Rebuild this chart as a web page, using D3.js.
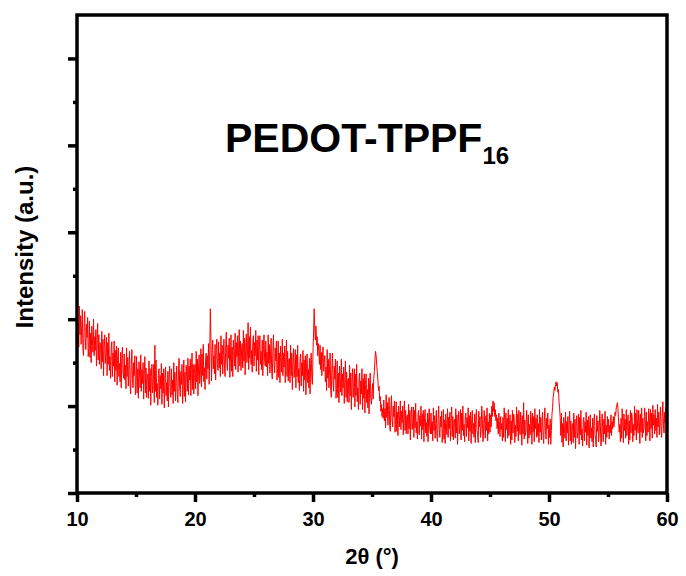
<!DOCTYPE html>
<html>
<head>
<meta charset="utf-8">
<script src="https://cdn.jsdelivr.net/npm/d3@7"></script>
<style>
  body { margin: 0; background: #fff; }
  text { font-family: "Liberation Sans", Arial, sans-serif; font-weight: bold; }
</style>
</head>
<body>
<div id="chart"></div>
<script>
// XRD pattern, 2theta from 10 to 60 in 0.05 steps (one row per degree)
var twoThetaStart = 10, twoThetaStep = 0.05;
var intensity = [
  2080, 1780, 1950, 1680, 2150, 1820, 2040, 1710, 1920, 2110, 1670, 1580, 1920, 2090, 1760, 1650, 1940, 1790, 2020, 1570,
  1660, 1980, 1560, 1840, 1500, 1920, 1790, 1620, 2000, 1580, 1800, 1640, 1880, 1460, 1760, 1950, 1530, 1820, 1480, 1730,
  1710, 1430, 1860, 1510, 1770, 1350, 1680, 1820, 1490, 1600, 1790, 1350, 1730, 1480, 1840, 1410, 1570, 1320, 1680, 1740,
  1340, 1610, 1460, 1750, 1280, 1640, 1410, 1690, 1240, 1570, 1670, 1340, 1490, 1280, 1620, 1210, 1560, 1680, 1390, 1320,
  1600, 1300, 1470, 1200, 1670, 1340, 1560, 1230, 1440, 1630, 1230, 1140, 1480, 1650, 1320, 1210, 1500, 1350, 1580, 1130,
  1250, 1570, 1150, 1430, 1090, 1510, 1380, 1210, 1590, 1170, 1420, 1260, 1500, 1080, 1380, 1570, 1150, 1440, 1100, 1350,
  1370, 1090, 1520, 1170, 1430, 1010, 1340, 1480, 1150, 1260, 1480, 1040, 1700, 1170, 1530, 1100, 1260, 1010, 1370, 1430,
  1080, 1350, 1200, 1490, 1020, 1380, 1150, 1430, 980, 1310, 1450, 1120, 1270, 1060, 1400, 990, 1340, 1460, 1170, 1100,
  1430, 1130, 1300, 1030, 1500, 1170, 1390, 1060, 1270, 1460, 1130, 1040, 1380, 1550, 1220, 1110, 1400, 1250, 1480, 1030,
  1210, 1530, 1110, 1390, 1050, 1470, 1340, 1170, 1550, 1130, 1460, 1300, 1540, 1120, 1420, 1610, 1190, 1480, 1140, 1390,
  1480, 1200, 1630, 1280, 1540, 1120, 1450, 1590, 1260, 1370, 1660, 1220, 1600, 1350, 1710, 1280, 1440, 1190, 1550, 1610,
  1310, 1580, 1430, 1720, 1250, 1610, 2120, 1760, 1290, 1620, 1760, 1430, 1580, 1370, 1710, 1300, 1650, 1770, 1480, 1410,
  1740, 1440, 1610, 1340, 1810, 1480, 1700, 1370, 1580, 1770, 1430, 1340, 1680, 1850, 1520, 1410, 1700, 1550, 1780, 1330,
  1500, 1820, 1400, 1680, 1340, 1760, 1630, 1460, 1840, 1420, 1730, 1570, 1810, 1390, 1690, 1880, 1460, 1750, 1410, 1660,
  1720, 1440, 1870, 1520, 1780, 1360, 1690, 1830, 1500, 1610, 1960, 1420, 1800, 1550, 1910, 1480, 1640, 1390, 1750, 1810,
  1460, 1730, 1580, 1870, 1400, 1760, 1530, 1810, 1360, 1690, 1810, 1480, 1630, 1420, 1760, 1350, 1700, 1820, 1530, 1460,
  1750, 1450, 1620, 1350, 1820, 1490, 1710, 1380, 1590, 1780, 1400, 1310, 1650, 1820, 1490, 1380, 1670, 1520, 1750, 1300,
  1430, 1750, 1330, 1610, 1270, 1690, 1560, 1390, 1770, 1350, 1610, 1450, 1690, 1270, 1570, 1760, 1340, 1630, 1290, 1540,
  1550, 1270, 1700, 1350, 1610, 1190, 1520, 1660, 1330, 1440, 1650, 1210, 1590, 1340, 1700, 1270, 1430, 1180, 1540, 1600,
  1230, 1500, 1350, 1640, 1170, 1530, 1300, 1580, 1130, 1460, 1600, 1270, 1420, 1210, 1550, 1140, 1490, 1610, 1320, 1250,
  1620, 1850, 2120, 1880, 1760, 1920, 1700, 1800, 1580, 1720, 1640, 1480, 1700, 1420, 1620, 1350, 1560, 1680, 1400, 1500,
  1580, 1280, 1450, 1180, 1650, 1320, 1540, 1210, 1420, 1610, 1190, 1100, 1440, 1610, 1280, 1170, 1460, 1310, 1540, 1090,
  1200, 1520, 1100, 1380, 1040, 1460, 1330, 1160, 1540, 1120, 1370, 1210, 1450, 1030, 1330, 1520, 1100, 1390, 1050, 1300,
  1320, 1040, 1470, 1120, 1380, 960, 1290, 1430, 1100, 1210, 1430, 990, 1370, 1120, 1480, 1050, 1210, 960, 1320, 1380,
  1020, 1290, 1140, 1430, 960, 1320, 1090, 1370, 920, 1250, 1370, 1040, 1190, 980, 1320, 910, 1260, 1380, 1090, 1020,
  1150, 1260, 1080, 1320, 1400, 1530, 1630, 1580, 1470, 1390, 1300, 1180, 1230, 1060, 1110, 940, 1020, 880, 970, 860,
  1070, 830, 970, 750, 1130, 870, 1040, 780, 950, 1100, 780, 710, 980, 1120, 850, 760, 1000, 880, 1060, 700,
  790, 1050, 710, 930, 660, 1000, 890, 760, 1060, 730, 940, 810, 1000, 670, 910, 1060, 720, 950, 680, 880,
  900, 680, 1020, 740, 950, 610, 880, 990, 730, 810, 990, 640, 950, 750, 1030, 690, 820, 620, 910, 950,
  670, 890, 770, 1000, 620, 910, 730, 950, 590, 860, 960, 690, 810, 650, 920, 590, 870, 970, 730, 680,
  920, 680, 820, 600, 980, 720, 890, 630, 800, 950, 660, 590, 860, 1000, 730, 640, 880, 760, 940, 580,
  700, 960, 620, 840, 570, 910, 800, 670, 970, 640, 870, 740, 930, 600, 840, 990, 650, 880, 610, 810,
  850, 630, 970, 690, 900, 560, 830, 940, 680, 760, 960, 610, 920, 720, 1000, 660, 790, 590, 880, 920,
  650, 870, 750, 980, 600, 890, 710, 930, 570, 840, 950, 680, 800, 640, 910, 580, 860, 960, 720, 670,
  580, 940, 760, 880, 640, 730, 1000, 860, 590, 660, 950, 800, 630, 890, 720, 980, 600, 820, 680, 920,
  700, 900, 760, 1000, 880, 1060, 940, 1040, 880, 960, 830, 900, 740, 860, 680, 920, 770, 650, 880, 730,
  800, 600, 870, 640, 980, 830, 590, 920, 730, 860, 630, 960, 660, 790, 900, 560, 830, 610, 950, 690,
  910, 870, 580, 780, 650, 990, 710, 910, 600, 950, 750, 670, 930, 820, 550, 890, 680, 1040, 620, 840,
  660, 710, 950, 850, 570, 900, 630, 790, 670, 940, 830, 560, 920, 700, 880, 590, 970, 740, 860, 640,
  900, 660, 800, 580, 960, 700, 870, 610, 780, 930, 640, 570, 840, 980, 710, 620, 860, 740, 920, 560,
  780, 640, 850, 560, 720, 900, 980, 1100, 1150, 1220, 1180, 1250, 1280, 1230, 1270, 1160, 1190, 1050, 980, 860,
  660, 920, 580, 800, 530, 870, 760, 630, 930, 600, 820, 690, 880, 550, 790, 940, 600, 830, 560, 760,
  800, 580, 920, 640, 850, 510, 780, 890, 630, 710, 910, 560, 870, 670, 950, 610, 740, 540, 830, 870,
  600, 820, 700, 930, 550, 840, 660, 880, 520, 790, 900, 630, 750, 590, 860, 530, 810, 910, 670, 620,
  530, 890, 710, 830, 590, 680, 950, 810, 540, 610, 910, 760, 590, 850, 680, 940, 560, 780, 640, 880,
  700, 850, 620, 780, 690, 900, 660, 820, 740, 880, 760, 840, 930, 890, 980, 1010, 1040, 960, 820, 700,
  790, 590, 860, 630, 970, 820, 580, 910, 720, 850, 630, 960, 660, 790, 900, 560, 830, 610, 950, 690,
  920, 880, 590, 790, 660, 1000, 720, 920, 610, 960, 770, 690, 950, 840, 570, 910, 700, 980, 640, 860,
  690, 740, 980, 880, 600, 930, 660, 820, 700, 970, 870, 600, 960, 740, 920, 630, 1010, 780, 900, 680,
  960, 720, 860, 640, 1020, 760, 930, 670, 840, 990, 710, 640, 910, 1050, 780, 690, 930, 810, 990, 630,
  880
];
var xMajorTicks = [10, 20, 30, 40, 50, 60];
var xMinorTicks = [15, 25, 35, 45, 55];
var yMajorTicks = [0, 1000, 2000, 3000, 4000, 5000];
var yMinorTicks = [500, 1500, 2500, 3500, 4500];

var data = intensity.map(function(v, i) {
  return { x: twoThetaStart + i * twoThetaStep, y: v };
});

var W = 686, H = 576;
var margin = {top: 15, right: 19, bottom: 83, left: 77},
    width = W - margin.left - margin.right,
    height = H - margin.top - margin.bottom;

var svg = d3.select("#chart")
  .append("svg")
    .attr("width", W)
    .attr("height", H)
  .append("g")
    .attr("transform", "translate(" + margin.left + "," + margin.top + ")");

var x = d3.scaleLinear().domain([10, 60]).range([0, width]);
var y = d3.scaleLinear().domain([0, 5500]).range([height, 0]);

// the trace
var line = d3.line()
  .x(function(d) { return x(d.x); })
  .y(function(d) { return y(d.y); });

svg.append("path")
  .datum(data)
  .attr("fill", "none")
  .attr("stroke", "#ff0000")
  .attr("stroke-width", 1)
  .attr("d", line);

// left axis ticks (no labels)
var yMajor = svg.append("g")
  .call(d3.axisLeft(y).tickValues(yMajorTicks).tickSize(9).tickFormat(""));
var yMinor = svg.append("g")
  .call(d3.axisLeft(y).tickValues(yMinorTicks).tickSize(4).tickFormat(""));

// bottom axis
var xMajor = svg.append("g")
  .attr("transform", "translate(0," + height + ")")
  .call(d3.axisBottom(x).tickValues(xMajorTicks).tickSize(9).tickPadding(10));
var xMinor = svg.append("g")
  .attr("transform", "translate(0," + height + ")")
  .call(d3.axisBottom(x).tickValues(xMinorTicks).tickSize(4).tickFormat(""));

[yMajor, yMinor, xMajor, xMinor].forEach(function(g) {
  g.select(".domain").remove();
  g.selectAll(".tick line").attr("stroke", "#000").attr("stroke-width", 3.5);
});
xMajor.selectAll(".tick text")
  .attr("font-size", 20)
  .attr("fill", "#000")
  .style("font-family", "'Liberation Sans', Arial, sans-serif")
  .style("font-weight", "bold");

// frame
svg.append("rect")
  .attr("x", 0)
  .attr("y", 0)
  .attr("width", width)
  .attr("height", height)
  .attr("fill", "none")
  .attr("stroke", "#000")
  .attr("stroke-width", 3.5);

// axis titles
svg.append("text")
  .attr("x", width / 2)
  .attr("y", height + 71)
  .attr("text-anchor", "middle")
  .attr("font-size", 22)
  .text("2θ (°)");

svg.append("text")
  .attr("transform", "translate(" + (-44) + "," + (232) + ") rotate(-90)")
  .attr("text-anchor", "middle")
  .attr("font-size", 24)
  .text("Intensity (a.u.)");

// sample label
var title = svg.append("text")
  .attr("x", 148)
  .attr("y", 137)
  .attr("font-size", 41);
title.append("tspan").text("PEDOT-TPPF");
title.append("tspan")
  .attr("font-size", 24)
  .attr("dy", 12)
  .text("16");
</script>
</body>
</html>
